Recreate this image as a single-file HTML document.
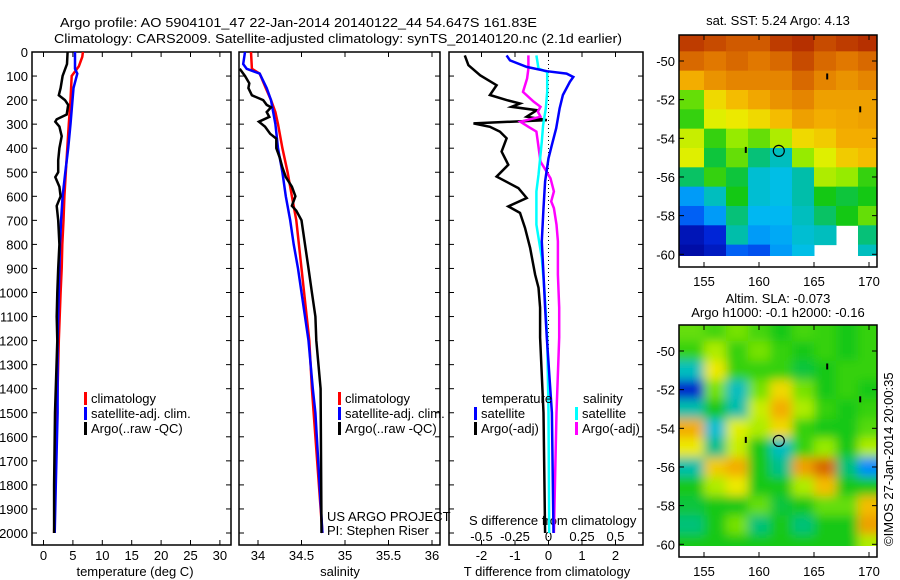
<!DOCTYPE html>
<html><head><meta charset="utf-8"><style>
html,body{margin:0;padding:0;background:#fff;}
svg{display:block;font-family:"Liberation Sans",sans-serif;}
text{font-size:13px;fill:#000;}
</style></head><body>
<svg id="chart" width="900" height="580" viewBox="0 0 900 580" xmlns="http://www.w3.org/2000/svg">
<text x="60" y="27" font-size="14" textLength="477" lengthAdjust="spacingAndGlyphs">Argo profile: AO 5904101_47 22-Jan-2014 20140122_44 54.647S 161.83E</text>
<text x="54" y="43" font-size="14" textLength="568" lengthAdjust="spacingAndGlyphs">Climatology: CARS2009. Satellite-adjusted climatology: synTS_20140120.nc (2.1d earlier)</text>
<g id="g"></g>
</svg>
<script>
// ---------- data ----------
const depthTicks=[0,100,200,300,400,500,600,700,800,900,1000,1100,1200,1300,1400,1500,1600,1700,1800,1900,2000];
const tempTicks=[0,5,10,15,20,25,30];
const salTicks=[34,34.5,35,35.5,36];
const tdTicks=[-2,-1,0,1,2];
const sdTicks=[-0.5,-0.25,0,0.25,0.5];
const tClimD=[0,20,60,100,200,300,400,500,600,700,800,900,1000,1200,1500,1800,2000];
const tClimV=[6.7,6.6,6.0,4.8,4.6,4.3,4.05,3.8,3.55,3.4,3.2,3.1,2.9,2.6,2.3,2.0,1.8];
const tSatD=[0,70,90,150,300,400,500,600,700,800,1000,1200,1500,1800,2000];
const tSatV=[5.35,5.35,5.75,5.1,4.6,4.2,3.7,3.25,3.0,2.8,2.6,2.4,2.4,2.1,1.9];
const tArgoD=[0,50,100,150,180,200,220,260,280,290,310,350,400,450,500,520,560,600,640,700,800,900,1000,1100,1200,1500,1800,2000];
const tArgoV=[4.1,4.0,3.25,2.9,2.6,3.65,4.2,3.95,2.25,2.0,2.7,3.1,2.7,2.5,2.5,2.0,2.7,2.9,2.25,2.5,2.7,2.5,2.35,2.25,2.35,1.95,1.8,1.8];
const sClimD=[0,70,90,150,200,250,300,400,500,600,700,800,900,1000,1200,1400,2000];
const sClimV=[33.92,33.93,34.02,34.09,34.15,34.2,34.23,34.28,34.34,34.39,34.44,34.47,34.5,34.53,34.59,34.62,34.74];
const sSatD=[0,50,70,90,150,200,300,400,500,600,700,800,900,1000,1200,1400,1500,2000];
const sSatV=[33.85,33.83,33.87,34.02,34.1,34.15,34.2,34.23,34.28,34.32,34.37,34.41,34.46,34.5,34.58,34.63,34.66,34.74];
const sArgoD=[70,100,130,150,180,200,220,230,250,270,290,310,340,360,400,440,480,520,560,600,640,660,700,800,900,1000,1100,1200,1400,2000];
const sArgoV=[33.79,33.85,33.9,33.89,33.93,34.06,34.1,34.15,34.1,34.13,34.01,34.08,34.14,34.21,34.21,34.25,34.28,34.32,34.39,34.43,34.39,34.44,34.5,34.54,34.58,34.62,34.66,34.67,34.72,34.73];
const dtArgoD=[14,55,97,138,179,200,214,228,242,269,283,297,311,331,359,414,469,518,566,607,642,669,731,814,925,980,1063,1187,1500,2000];
const dtArgoV=[-2.5,-2.39,-2.04,-1.55,-1.75,-1.25,-0.85,-1.1,-0.35,-0.65,-0.05,-2.24,-1.75,-1.45,-1.25,-1.4,-1.2,-1.55,-0.9,-0.65,-1.2,-0.85,-0.7,-0.55,-0.4,-0.3,-0.25,-0.25,-0.15,-0.1];
const dtSatD=[14,35,62,80,90,104,124,179,235,317,386,442,538,649,787,925,1063,1187,1500,2000];
const dtSatV=[-1.25,-1.15,-0.65,-0.05,0.54,0.74,0.64,0.43,0.33,0.23,0.1,0,-0.1,-0.15,-0.2,-0.15,-0.1,-0.05,0.1,0.15];
const dsSatD=[14,69,83,166,235,304,373,511,580,718,856,994,1187,1500,2000];
const dsSatV=[-0.09,-0.075,-0.01,-0.01,-0.02,-0.04,-0.05,-0.075,-0.09,-0.09,-0.05,-0.03,-0.01,0,0.005];
const dsArgoD=[14,69,110,166,207,228,248,269,290,311,331,373,456,483,525,580,621,649,718,787,925,1063,1187,1500,2000];
const dsArgoV=[-0.15,-0.15,-0.16,-0.19,-0.11,-0.06,-0.08,-0.06,-0.21,-0.15,-0.09,-0.08,-0.06,-0.03,0.015,0.04,0.02,0.04,0.06,0.07,0.07,0.08,0.08,0.06,0.04];
// maps: rows north->south, values on colour scale 0..1, null = no data
const sstLats=[-48.65,-49.5,-50.5,-51.5,-52.5,-53.5,-54.5,-55.5,-56.5,-57.5,-58.5,-59.5];
const sstLons=[153,155,157,159,161,163,165,167,169];
const sstGrid=[
[0.9,0.88,0.86,0.86,0.9,0.92,0.88,0.9,0.92],
[0.84,0.82,0.84,0.82,0.84,0.88,0.84,0.82,0.84],
[0.74,0.78,0.8,0.8,0.8,0.84,0.8,0.78,0.8],
[0.55,0.68,0.72,0.75,0.78,0.8,0.76,0.76,0.76],
[0.52,0.64,0.66,0.68,0.72,0.76,0.74,0.75,0.76],
[0.62,0.52,0.58,0.55,0.6,0.68,0.7,0.74,0.74],
[0.64,0.48,0.55,0.45,0.4,0.58,0.64,0.7,0.72],
[0.46,0.52,0.48,0.38,0.36,0.42,0.6,0.58,0.52],
[0.3,0.4,0.5,0.38,0.36,0.42,0.5,0.48,0.5],
[0.22,0.3,0.45,0.34,0.34,0.4,0.46,0.5,0.55],
[0.08,0.14,0.42,0.3,0.32,0.38,0.4,null,0.45],
[0.05,0.1,0.22,0.2,0.3,0.36,null,null,0.4]];
const slaLats=[-48,-49.5,-50.5,-51.5,-52.5,-53.5,-54.5,-55.5,-56.5,-57.5,-58.5,-59.5];
const slaLons=[153,155,157,159,161,163,165,167,169];
const slaGrid=[
[0.55,0.53,0.56,0.53,0.5,0.53,0.52,0.5,0.52],
[0.52,0.6,0.52,0.56,0.52,0.5,0.52,0.5,0.52],
[0.4,0.66,0.52,0.52,0.52,0.48,0.5,0.52,0.52],
[0.12,0.56,0.4,0.56,0.68,0.56,0.5,0.52,0.5],
[0.42,0.5,0.42,0.62,0.74,0.6,0.52,0.5,0.52],
[0.74,0.38,0.64,0.6,0.68,0.52,0.5,0.5,0.54],
[0.66,0.44,0.62,0.5,0.4,0.52,0.58,0.5,0.6],
[0.42,0.7,0.74,0.5,0.44,0.76,0.84,0.45,0.28],
[0.5,0.6,0.66,0.5,0.5,0.6,0.72,0.5,0.5],
[0.48,0.5,0.5,0.55,0.48,0.5,0.55,0.55,0.72],
[0.45,0.5,0.56,0.45,0.5,0.45,0.5,0.5,0.76],
[0.5,0.5,0.5,0.5,0.5,0.5,0.5,0.5,0.6]];
const mapLonTicks=[155,160,165,170];
const mapLatTicks=[-50,-52,-54,-56,-58,-60];
const floatPos=[161.8,-54.65];

// ---------- drawing ----------
const NS="http://www.w3.org/2000/svg";
const G=document.getElementById('g');
function el(tag,attrs,parent){const e=document.createElementNS(NS,tag);for(const k in attrs)e.setAttribute(k,attrs[k]);(parent||G).appendChild(e);return e;}
function txt(x,y,s,anchor,parent){const t=el('text',{x:x,y:y,'text-anchor':anchor||'start'},parent);t.textContent=s;return t;}
const yD=d=>52+d*0.2405;
const TOP=52,BOT=545;
const panels=[
 {name:'temperature',x0:32,x1:231,sx:v=>43.5+v*5.88,ticks:tempTicks,label:'temperature (deg C)',lx:135},
 {name:'salinity',x0:239,x1:440,sx:v=>258+(v-34)*87,ticks:salTicks,label:'salinity',lx:340},
 {name:'difference',x0:449,x1:643,sx:v=>548.5+v*33.5,ticks:tdTicks,label:'T difference from climatology',lx:547}];
const sxS=v=>548.5+v*134;
panels.forEach((p,i)=>{
 const g=el('g',{});
 
 
 el('rect',{x:p.x0,y:TOP,width:p.x1-p.x0,height:BOT-TOP,fill:'none',stroke:'#000','stroke-width':1.5},g);
 depthTicks.forEach(d=>{const y=yD(d);
  el('line',{x1:p.x0,x2:p.x0+5,y1:y,y2:y,stroke:'#000'},g);
  el('line',{x1:p.x1-5,x2:p.x1,y1:y,y2:y,stroke:'#000'},g);});
 p.ticks.forEach(v=>{const x=p.sx(v);
  el('line',{x1:x,x2:x,y1:BOT,y2:BOT-5,stroke:'#000'},g);
  el('line',{x1:x,x2:x,y1:TOP,y2:TOP+5,stroke:'#000'},g);
  const t=txt(x,560,String(v),'middle',g);
  
  });
 const xl=txt(p.lx,576,p.label,'middle',g);
 
 
});
depthTicks.forEach(d=>{const t=txt(28,yD(d)+5,String(d),'end');
 
 });
sdTicks.forEach(v=>{const t=txt(sxS(v),541,String(v),'middle');
 
 });
const sdl=txt(469,525,'S difference from climatology');


const zl=el('line',{x1:548.5,x2:548.5,y1:TOP,y2:BOT,stroke:'#000','stroke-dasharray':'1,3'});



function series(D,V,sx,color,name){
 const pts=D.map((d,i)=>sx(V[i]).toFixed(1)+','+yD(d).toFixed(1)).join(' ');
 const l=el('polyline',{points:pts,fill:'none',stroke:color,'stroke-width':2.5,'stroke-linejoin':'miter'});
 
 
}
const sxT=panels[0].sx,sxSal=panels[1].sx,sxTd=panels[2].sx;
series(tClimD,tClimV,sxT,'#f00','temp-climatology-line');
series(tSatD,tSatV,sxT,'#00f','temp-satellite-line');
series(tArgoD,tArgoV,sxT,'#000','temp-argo-line');
series(sClimD,sClimV,sxSal,'#f00','sal-climatology-line');
series(sSatD,sSatV,sxSal,'#00f','sal-satellite-line');
series(sArgoD,sArgoV,sxSal,'#000','sal-argo-line');
series(dtArgoD,dtArgoV,sxTd,'#000','tdiff-argo-line');
series(dsArgoD,dsArgoV,sxS,'#f0f','sdiff-argo-line');
series(dsSatD,dsSatV,sxS,'#0ff','sdiff-satellite-line');
series(dtSatD,dtSatV,sxTd,'#00f','tdiff-satellite-line');

function legend(x,y,color,label,name){
 const g=el('g',{});
 
 
 el('rect',{x:x,y:y-11,width:3,height:13,fill:color},g);
 txt(x+7,y,label,'start',g);
}
legend(84,403,'#f00','climatology','legend-climatology');
legend(84,418,'#00f','satellite-adj. clim.','legend-satellite');
legend(84,433,'#000','Argo(..raw -QC)','legend-argo');
legend(338,403,'#f00','climatology','legend-climatology-2');
legend(338,418,'#00f','satellite-adj. clim.','legend-satellite-2');
legend(338,433,'#000','Argo(..raw -QC)','legend-argo-2');
const lt=txt(482,403,'temperature');
const ls=txt(583,403,'salinity');
legend(474,418,'#00f','satellite','legend-t-satellite');
legend(474,433,'#000','Argo(-adj)','legend-t-argo');
legend(575,418,'#0ff','satellite','legend-s-satellite');
legend(575,433,'#f0f','Argo(-adj)','legend-s-argo');
const p1=txt(327,521,'US ARGO PROJECT');
const p2=txt(327,535,'PI: Stephen Riser');

// ---------- maps ----------
const cmapStops=[[0,[0,0,140]],[0.15,[0,40,220]],[0.25,[0,120,255]],[0.35,[0,190,240]],[0.43,[0,190,160]],[0.5,[20,200,20]],[0.58,[150,235,0]],[0.65,[235,240,0]],[0.73,[245,180,0]],[0.82,[225,120,0]],[0.9,[190,60,0]],[1,[150,0,0]]];
function cmap(v){
 v=Math.max(0,Math.min(1,v));
 for(let i=1;i<cmapStops.length;i++){
  const a=cmapStops[i-1],b=cmapStops[i];
  if(v<=b[0]){const t=(v-a[0])/(b[0]-a[0]);
   return 'rgb('+a[1].map((c,k)=>Math.round(c+(b[1][k]-c)*t)).join(',')+')';}
 }
 return 'rgb(150,0,0)';
}
function drawMap(m){
 const lx=lon=>704+(lon-155)*11;
 const ly=lat=>m.y50+(-50-lat)*19.33;
 const g=el('g',{});
 
 
 const cid='clip'+m.name;
 const cp=el('clipPath',{id:cid},g);
 el('rect',{x:679,y:m.top,width:198,height:m.dataBot-m.top},cp);
 const clipG=el('g',{'clip-path':'url(#'+cid+')'},g);
 const cells=el('g',m.blur?{filter:'url(#bl)'}:{},clipG);
 const nR=m.grid.length;
 m.grid.forEach((row,r)=>row.forEach((v,c)=>{
  if(v===null)return;
  const lon0=m.lons[c],lat0=m.lats[r];
  const lat1=r<nR-1?m.lats[r+1]:lat0-1.5;
  let x=lx(lon0),y=ly(lat0),w=lx(lon0+2)-x,h=ly(lat1)-y;
  if(c===0){x-=15;w+=15;} if(c===row.length-1)w+=20;
  if(r===0){y-=15;h+=15;} if(r===nR-1&&m.blur)h+=20;
  const rc=el('rect',{x:x,y:y,width:w+0.5,height:h+0.5,fill:cmap(v)},cells);
  
  
 }));
 el('rect',{x:679,y:m.top,width:198,height:m.bot-m.top,fill:'none',stroke:'#000','stroke-width':1.5},g);
 mapLonTicks.forEach(v=>{const x=lx(v);
  el('line',{x1:x,x2:x,y1:m.bot,y2:m.bot-5,stroke:'#000'},g);
  el('line',{x1:x,x2:x,y1:m.top,y2:m.top+5,stroke:'#000'},g);
  txt(x,m.bot+19,String(v),'middle',g);});
 mapLatTicks.forEach(v=>{const y=ly(v);
  el('line',{x1:679,x2:684,y1:y,y2:y,stroke:'#000'},g);
  el('line',{x1:872,x2:877,y1:y,y2:y,stroke:'#000'},g);
  txt(675,y+5,String(v),'end',g);});
 const c=el('circle',{cx:lx(floatPos[0]),cy:ly(floatPos[1]),r:5.5,fill:'none',stroke:'#000','stroke-width':1.2},g);
 
 
 [[166.2,-50.8],[169.2,-52.5],[158.8,-54.6]].forEach(q=>el('rect',{x:lx(q[0])-1,y:ly(q[1])-3,width:2,height:6,fill:'#000'},g));
}
const defs=el('defs',{});
const f=el('filter',{id:'bl',x:'-10%',y:'-10%',width:'120%',height:'120%'},defs);
el('feGaussianBlur',{stdDeviation:5},f);
drawMap({name:'sst-map',grid:sstGrid,lats:sstLats,lons:sstLons,y50:61,top:35,bot:267,dataBot:256,blur:false});
drawMap({name:'sla-map',grid:slaGrid,lats:slaLats,lons:slaLons,y50:351,top:325,bot:557,dataBot:546,blur:true});
const m1=txt(778,25,'sat. SST: 5.24 Argo: 4.13','middle');
const m2=txt(778,303,'Altim. SLA: -0.073','middle');
const m3=txt(778,317,'Argo h1000: -0.1 h2000: -0.16','middle');
const cr=txt(0,0,'©IMOS 27-Jan-2014 20:00:35','start');
cr.setAttribute('transform','translate(893,546) rotate(-90)');


</script>
</body></html>
